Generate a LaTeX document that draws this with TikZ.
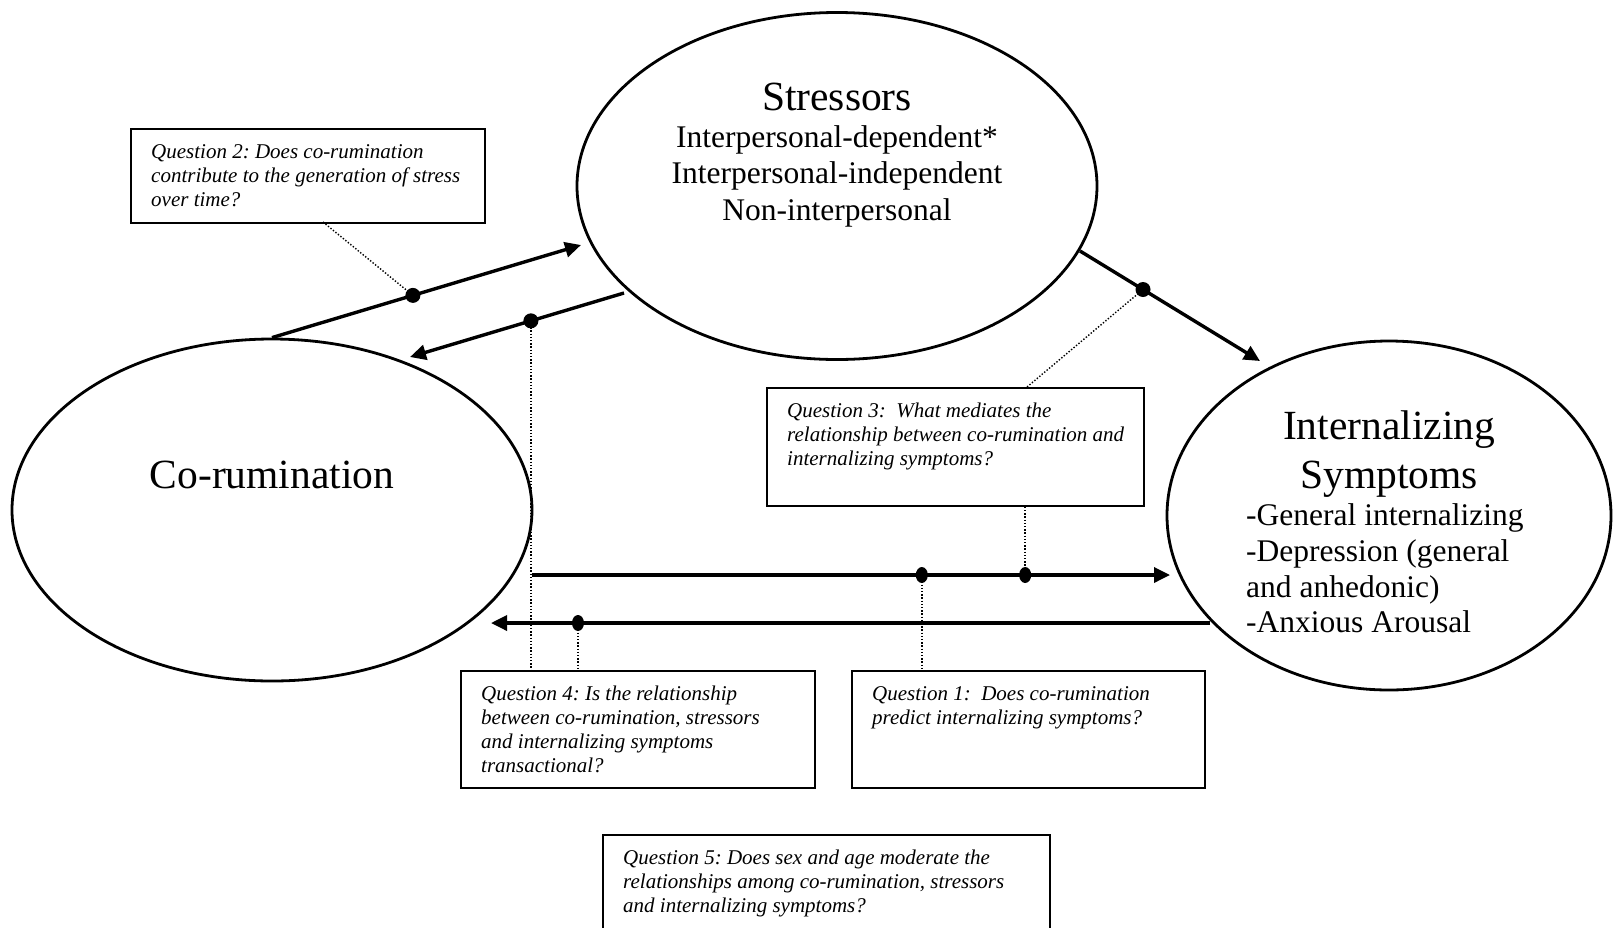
\documentclass[tikz,border=0pt]{standalone}
\usepackage{fontspec}
\setmainfont{Liberation Serif}
\usetikzlibrary{shapes.geometric,arrows.meta,calc}
\frenchspacing
\begin{document}
\begin{tikzpicture}[x=1pt,y=-1pt,
  oval/.style={ellipse,draw,line width=2.8pt,inner sep=0pt},
  qbox/.style={draw,line width=1.8pt,rectangle,inner sep=0pt,anchor=north west},
  qtext/.style={anchor=base west,inner sep=0pt,font=\fontsize{21}{24}\selectfont\itshape},
  bigtext/.style={anchor=base,inner sep=0pt,font=\fontsize{41.5}{49}\selectfont},
  midtext/.style={inner sep=0pt},
  conn/.style={line width=3.4pt,-{Triangle[length=16pt,width=15pt]}},
  dot/.style={circle,fill=black,inner sep=0pt,minimum size=15pt},
  hdot/.style={ellipse,fill=black,inner sep=0pt,minimum width=12pt,minimum height=16pt},
  link/.style={line width=1.4pt,dash pattern=on 1.4pt off 1.8pt}]
\useasboundingbox (0,0) rectangle (1619,927);

% ellipses
\node[oval,minimum width=520pt,minimum height=347pt] (str) at (837,186) {};
\node[oval,minimum width=520pt,minimum height=342pt] (co) at (272,510) {};
\node[oval,minimum width=444pt,minimum height=349pt] (ins) at (1389,515.5) {};

% ellipse texts
\node[bigtext] (strt) at (837,110.5) {Stressors};
\node[midtext,anchor=base,font=\fontsize{31.5}{36.7}\selectfont] (strb) at (837,147)
  {\begin{tabular}[t]{@{}c@{}}Interpersonal-dependent*\\Interpersonal-independent\\Non-interpersonal\end{tabular}};
\node[bigtext] (cot) at (272,488) {Co-rumination};
\node[bigtext] (inst) at (1389,439)
  {\begin{tabular}[t]{@{}c@{}}Internalizing\\Symptoms\end{tabular}};
\node[midtext,anchor=base west,font=\fontsize{31.5}{35.8}\selectfont] (insb) at (1246,525.5)
  {\begin{tabular}[t]{@{}l@{}}-General internalizing\\-Depression (general\\and anhedonic)\\-Anxious Arousal\end{tabular}};

% question boxes
\node[qbox,minimum width=354pt,minimum height=94pt] (q2) at (130,128) {};
\node[qtext] (q2t) at ($(q2.north west)+(21,30)$)
  {\begin{tabular}[t]{@{}l@{}}Question 2: Does co-rumination\\contribute to the generation of stress\\over time?\end{tabular}};
\node[qbox,minimum width=377pt,minimum height=118pt] (q3) at (766,387) {};
\node[qtext] (q3t) at ($(q3.north west)+(21,30)$)
  {\begin{tabular}[t]{@{}l@{}}Question 3:\ \ What mediates the\\relationship between co-rumination and\\internalizing symptoms?\end{tabular}};
\node[qbox,minimum width=354pt,minimum height=117pt] (q4) at (460,670) {};
\node[qtext] (q4t) at ($(q4.north west)+(21,30)$)
  {\begin{tabular}[t]{@{}l@{}}Question 4: Is the relationship\\between co-rumination, stressors\\and internalizing symptoms\\transactional?\end{tabular}};
\node[qbox,minimum width=353pt,minimum height=117pt] (q1) at (851,670) {};
\node[qtext] (q1t) at ($(q1.north west)+(21,30)$)
  {\begin{tabular}[t]{@{}l@{}}Question 1:\ \ Does co-rumination\\predict internalizing symptoms?\end{tabular}};
\begin{scope}
\clip (0,0) rectangle (1619,927);
\node[qbox,minimum width=447pt,minimum height=120pt] (q5) at (602,834) {};
\end{scope}
\node[qtext] (q5t) at ($(q5.north west)+(21,30)$)
  {\begin{tabular}[t]{@{}l@{}}Question 5: Does sex and age moderate the\\relationships among co-rumination, stressors\\and internalizing symptoms?\end{tabular}};

% arrow end points
\coordinate (a1e) at (581,245);
\coordinate (a2s) at (624,293);
\coordinate (a2e) at (410,357);
\coordinate (a3s) at (1080,251);
\coordinate (a3e) at (1260,361);
\coordinate (a4s) at (532,575);
\coordinate (a4e) at (1170,575);
\coordinate (a5s) at (1210,623);
\coordinate (a5e) at (491,623);
\coordinate (q2p) at (323,222);
\coordinate (q3p) at (1027,387);

% arrows with dots
\draw[conn] (co.north) -- (a1e) node[dot,pos=0.456] (d1) {};
\draw[conn] (a2s) -- (a2e) node[dot,pos=0.435] (d2) {};
\draw[conn] (a3s) -- (a3e) node[dot,pos=0.35] (d3) {};
\draw[conn] (a4s) -- (a4e) node[hdot,pos=0.611] (d4a) {} node[hdot,pos=0.773] (d4b) {};
\draw[conn] (a5s) -- (a5e) node[hdot,pos=0.879] (d5) {};

% dotted links
\draw[link] (q2p) -- (d1.center);
\draw[link] (d2.center) -- (d2 |- q4.north);
\draw[link] (d5.center) -- (d5 |- q4.north);
\draw[link] (d4a.center) -- (d4a |- q1.north);
\draw[link] (q3.south -| d4b) -- (d4b.center);
\draw[link] (q3p) -- (d3.center);
\end{tikzpicture}
\end{document}
